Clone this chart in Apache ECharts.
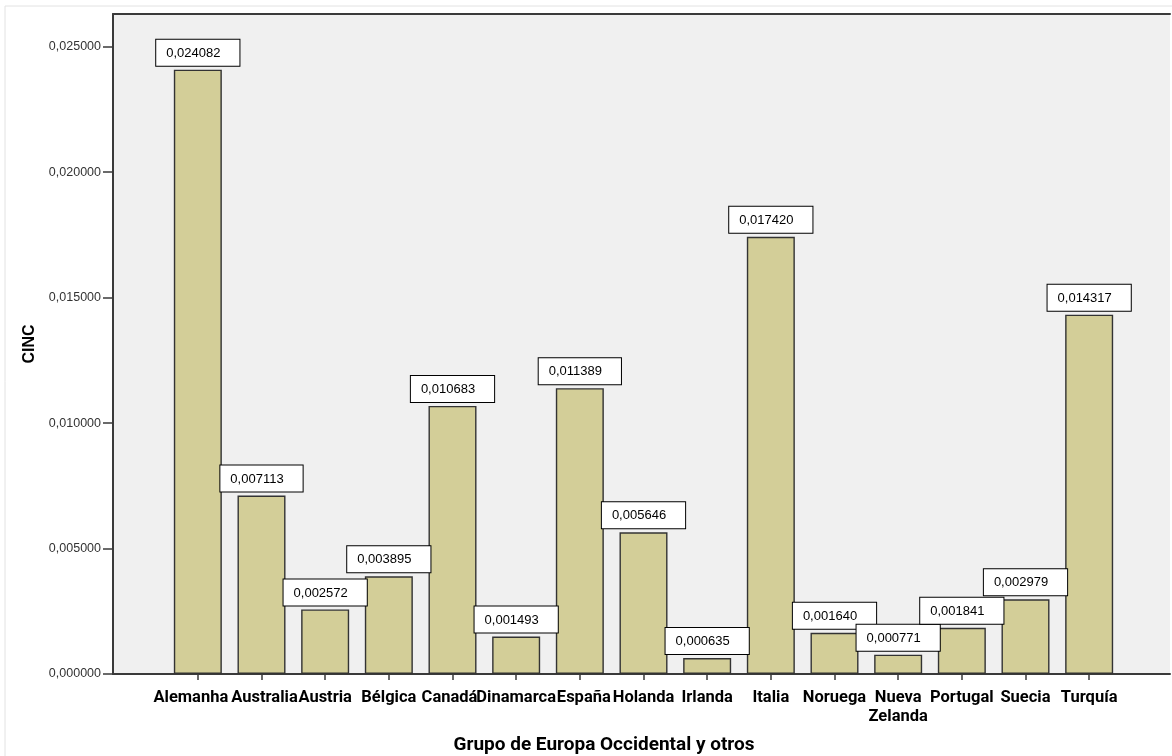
<!DOCTYPE html>
<html>
<head>
<meta charset="utf-8">
<script src="https://cdn.jsdelivr.net/npm/echarts@6/dist/echarts.min.js"></script>
<style>
html,body{margin:0;padding:0;background:#fff;}
#chart{width:1172px;height:756px;}
</style>
</head>
<body>
<div id="chart"></div>
<script>
const categories = ['Alemanha','Australia','Austria','Bélgica','Canadá','Dinamarca','España','Holanda','Irlanda','Italia','Noruega','Nueva Zelanda','Portugal','Suecia','Turquía'];
const cincValues = [0.024082,0.007113,0.002572,0.003895,0.010683,0.001493,0.011389,0.005646,0.000635,0.017420,0.001640,0.000771,0.001841,0.002979,0.014317];
const yTicks = [0,0.005,0.010,0.015,0.020,0.025];
const yTitle = 'CINC';
const xTitle = 'Grupo de Europa Occidental y otros';

// small horizontal nudges of crowded category labels (px, + = right)
const labelNudge = {'Alemanha':-7, 'Australia':3, 'Canadá':-3, 'España':4};

const Y_MAX = 0.0263;
const fmt = v => v.toFixed(6).replace('.', ',');
const axisColor = '#3a3a3a';
const xLabelFont = {fontFamily:'Roboto', fontWeight:'bold', fontSize:16.5, color:'#000', lineHeight:19};

const rich = {c: Object.assign({}, xLabelFont)};
Object.keys(labelNudge).forEach((k, i) => {
  const d = labelNudge[k];
  rich['n' + i] = Object.assign({}, xLabelFont, {padding: d < 0 ? [0, -2 * d, 0, 0] : [0, 0, 0, 2 * d]});
});
const nudgeKeys = Object.keys(labelNudge);

const chart = echarts.init(document.getElementById('chart'), null, {renderer:'canvas'});
chart.setOption({
  animation: false,
  backgroundColor: '#ffffff',
  graphic: [
    {type:'polyline', shape:{points:[[5,760],[5,6],[1180,6]]}, style:{stroke:'#e2e2e2', lineWidth:1, fill:null}, silent:true},
    {type:'text', x:604, y:745, style:{text:xTitle, font:'bold 19px Roboto', fill:'#000', align:'center', verticalAlign:'middle'}}
  ],
  grid: [
    {left:113, right:2, top:14, bottom:82, show:true, backgroundColor:'#f0f0f0', borderWidth:0},
    {left:166, right:51, top:14, bottom:82}
  ],
  xAxis: [
    {gridIndex:0, type:'value', min:0, max:1, position:'bottom',
     axisLine:{show:true, lineStyle:{color:axisColor, width:2}}, axisTick:{show:false}, axisLabel:{show:false}, splitLine:{show:false}},
    {gridIndex:0, type:'value', min:0, max:1, position:'top',
     axisLine:{show:true, lineStyle:{color:axisColor, width:2}}, axisTick:{show:false}, axisLabel:{show:false}, splitLine:{show:false}},
    {gridIndex:1, type:'category', data:categories, position:'bottom',
     axisLine:{show:false},
     axisTick:{show:true, alignWithLabel:true, length:6, inside:false, lineStyle:{color:axisColor, width:1.5}},
     axisLabel:Object.assign({interval:0, margin:14, rich:rich,
       formatter: v => {
         const i = nudgeKeys.indexOf(v);
         if (i >= 0) return '{n' + i + '|' + v + '}';
         return v.split(' ').map(w => '{c|' + w + '}').join('\n');
       }}, xLabelFont)}
  ],
  yAxis: [
    {gridIndex:0, type:'value', min:0, max:Y_MAX, interval:0.005,
     name:yTitle, nameLocation:'middle', nameGap:71, nameRotate:90,
     nameTextStyle:{fontFamily:'Liberation Sans', fontWeight:'bold', fontSize:16, color:'#000'},
     axisLine:{show:true, lineStyle:{color:axisColor, width:2}},
     axisTick:{show:true, length:10, lineStyle:{color:axisColor, width:1.5}, customValues:yTicks},
     axisLabel:{margin:12, fontFamily:'Liberation Sans', fontSize:12.5, color:'#333', formatter: v => fmt(v), customValues:yTicks},
     splitLine:{show:false}},
    {gridIndex:1, type:'value', min:0, max:Y_MAX, interval:0.005, show:false, splitLine:{show:false}}
  ],
  series: [{
    type:'bar', xAxisIndex:2, yAxisIndex:1, data:cincValues, barWidth:48,
    itemStyle:{color:'#d3ce98', borderColor:'#333333', borderWidth:1.4},
    label:{show:true, position:'top', distance:4, offset:[-4,0], formatter: p => fmt(p.value),
      fontFamily:'Liberation Sans', fontSize:13, color:'#000', lineHeight:13,
      backgroundColor:'#ffffff', borderColor:'#000', borderWidth:1, padding:[7,19,6,10]},
    labelLayout:{hideOverlap:false}
  }]
});
</script>
</body>
</html>
